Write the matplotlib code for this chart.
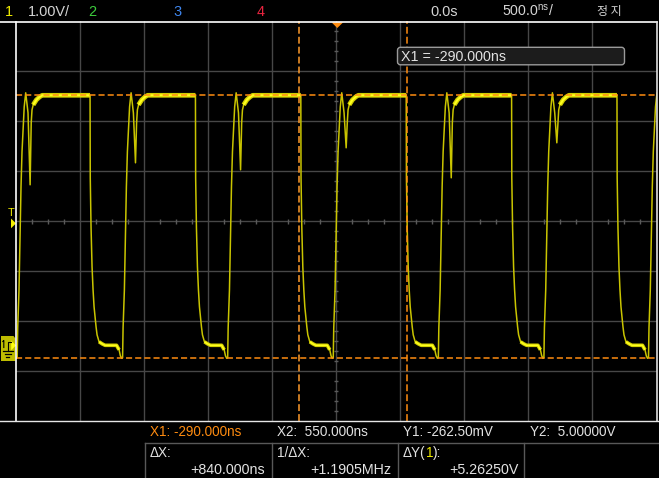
import numpy as np
import matplotlib
matplotlib.use("Agg")
import matplotlib.pyplot as plt
from matplotlib import font_manager
from matplotlib.patches import FancyBboxPatch, Polygon

# ---------------- data read from the scope screen ----------------
# channel 1 edges (ns) and depth of the ringing dip after each rising edge (V)
rise_starts_ns = [-2490.6, -1668.0, -847.7, -23.4, 796.9, 1621.1, 2437.5]
fall_starts_ns = [-1921.9, -1099.2, -276.6, 546.1, 1368.8, 2191.4]
dip_volts = [3.21, 3.65, 3.51, 3.95, 3.35, 4.05, 3.60]

# shape of the undershoot just before each rising edge
pre_rise_dt = [-46.9, -27.3, -17.2, -7.8]
pre_rise_v = [0.0, -0.09, -0.21, -0.26]
# shape of a rising edge (None = ringing dip, value from dip_volts)
rise_dt = [0.0, 3.9, 14.1, 21.9, 29.7, 37.5, 46.9, 54.7, 66.4, 84.4, 100.8,
           109.4, 115.6, 125.0, 150.0, 175.8, 195.3]
rise_v = [-0.25, 0.35, 1.11, 2.11, 3.17, 3.87, 4.35, 4.77, 5.05, 4.65, None,
          4.45, 4.71, 4.81, 4.91, 4.97, 5.0]
# shape of a falling edge
fall_dt = [0.0, 1.6, 7.8, 15.6, 23.4, 31.3, 39.1, 46.9, 54.7, 70.3, 93.8, 117.2]
fall_v = [5.0, 3.35, 2.35, 1.57, 1.11, 0.77, 0.57, 0.37, 0.21, 0.07, 0.03, 0.0]

# cursors
x1_ns, x2_ns = -290.0, 550.0
y1_v, y2_v = -0.2625, 5.0

# readout texts
header_ch = ["1", "2", "3", "4"]
readout_row1 = ["X1: -290.000ns", "X2:  550.000ns", "Y1: -262.50mV", "Y2:  5.00000V"]
readout_labels = ["\u0394X:", "1/\u0394X:"]
readout_values = ["+840.000ns", "+1.1905MHz", "+5.26250V"]

# screen scale
T_MIN, T_MAX = -2500.0, 2500.0      # 500 ns/div, 10 div
V_BOT, V_TOP = -1.52, 6.48          # 1.00 V/div, 8 div

# ---------------- fonts ----------------
names = {f.name for f in font_manager.fontManager.ttflist}
REG = "Liberation Sans" if "Liberation Sans" in names else "DejaVu Sans"
if "Liberation Sans Narrow" in names:
    NARROW, NSCALE = "Liberation Sans Narrow", 1.0
else:
    NARROW, NSCALE = REG, 0.86
CJK = "Noto Sans CJK KR"

def nar(px):
    return dict(family=[NARROW, "DejaVu Sans"], size=px * 0.72 * NSCALE)

def reg(px):
    return dict(family=[REG, "DejaVu Sans"], size=px * 0.72)

# ---------------- figure ----------------
W, H = 659, 478
fig = plt.figure(figsize=(W / 100, H / 100), dpi=100, facecolor="black")

ax = fig.add_axes([16 / W, 1 - 421.3 / H, 640.5 / W, 400 / H])
ax.set_xlim(T_MIN, T_MAX)
ax.set_ylim(V_BOT, V_TOP)
ax.set_facecolor("black")
ax.axis("off")

grid_c = "#474747"
for k in range(1, 10):
    ax.axvline(T_MIN + 500 * k, color=grid_c, lw=1.0, zorder=1)
for k in range(1, 8):
    ax.axhline(V_BOT + k, color=grid_c, lw=1.0, zorder=1)

# minor ticks on the centre cross
v_c = V_BOT + 4
tx = np.arange(T_MIN, T_MAX + 1, 125.0)
tx = tx[np.abs((tx - T_MIN) % 500) > 1]
ax.vlines(tx, v_c - 0.045, v_c + 0.045, color="#5a5a5a", lw=1.0, zorder=1)
vy = V_BOT + 0.2 * np.arange(0, 41)
vy = vy[np.abs(((vy - V_BOT) + 1e-6) % 1.0) > 0.01]
ax.hlines(vy, -16, 16, color="#5a5a5a", lw=1.0, zorder=1)

# build the trace from the read edge data
t_pts, v_pts = [], []
top_windows, bot_windows = [], []
for i, r in enumerate(rise_starts_ns):
    for dt, vv in zip(pre_rise_dt, pre_rise_v):
        t_pts.append(r + dt); v_pts.append(vv)
    for dt, vv in zip(rise_dt, rise_v):
        t_pts.append(r + dt); v_pts.append(dip_volts[i] if vv is None else vv)
    if i < len(fall_starts_ns):
        f = fall_starts_ns[i]
        top_windows.append((r + 125.0, f))
        for dt, vv in zip(fall_dt, fall_v):
            t_pts.append(f + dt); v_pts.append(vv)
        if i + 1 < len(rise_starts_ns):
            bot_windows.append((f + 70.3, rise_starts_ns[i + 1] - 27.3))
    else:
        top_windows.append((r + 125.0, T_MAX + 50))
t_pts = np.array(t_pts); v_pts = np.array(v_pts)
# level before the first edge
t_pts = np.concatenate([[T_MIN - 100], t_pts, [T_MAX + 100]])
v_pts = np.concatenate([[0.0], v_pts, [5.0]])

ax.plot(t_pts, v_pts, color="#C9C400", lw=1.1, zorder=3)
for (a, b) in top_windows:
    m = (t_pts >= a - 0.01) & (t_pts <= b + 0.01)
    ax.plot(t_pts[m], v_pts[m], color="#D2CE00", lw=3.4, zorder=3,
            solid_capstyle="butt")
    ax.plot(t_pts[m], v_pts[m], color="#FFFF1E", lw=1.5, zorder=3,
            solid_capstyle="butt")
for (a, b) in bot_windows:
    m = (t_pts >= a - 0.01) & (t_pts <= b + 0.01)
    ax.plot(t_pts[m], v_pts[m], color="#D2CE00", lw=2.6, zorder=3,
            solid_capstyle="butt")
    ax.plot(t_pts[m], v_pts[m], color="#FFFF1E", lw=1.1, zorder=3,
            solid_capstyle="butt")

# cursors
cur_c = "#FF8C10"
for yv in (y1_v, y2_v):
    ax.axhline(yv, color=cur_c, lw=1.1, dashes=(4, 2), zorder=4)
ax.axvline(x1_ns, color="#FF9A2A", lw=1.1, dashes=(4.5, 2), zorder=4)
ax.axvline(x2_ns, color=cur_c, lw=1.1, dashes=(4.5, 2), zorder=4)

# ---------------- overlay in screen pixels ----------------
ov = fig.add_axes([0, 0, 1, 1], zorder=5)
ov.set_xlim(0, W); ov.set_ylim(H, 0)
ov.patch.set_visible(False)
ov.axis("off")

# frame
ov.plot([0, 657.2], [22, 22], color="white", lw=1.2)
ov.plot([16.3, 16.3], [22, 421.3], color="white", lw=1.2)
ov.plot([657.2, 657.2], [22, 421.3], color="#E0E0E0", lw=1.2)
ov.plot([0, 659], [421.3, 421.3], color="#E6E6E6", lw=1.0)

# trigger position marker (top) and trigger level marker (left)
ov.add_patch(Polygon([[331.5, 22.3], [343.2, 22.3], [337.3, 28.0]],
                     closed=True, color="#FF8C10", lw=0))
ov.text(11.3, 216.5, "T", color="#F5F000", ha="center", va="baseline",
        **reg(11))
ov.add_patch(Polygon([[11, 218.5], [11, 228.3], [16, 223.4]], closed=True,
                     color="#F5F000", lw=0))

# channel-1 ground marker
ov.add_patch(Polygon([[1, 336], [13.5, 336], [15.5, 338.5], [15.5, 361],
                      [1, 361]], closed=True, color="#BEBC00", lw=0))
ov.add_patch(Polygon([[11.2, 340.5], [11.2, 350.3], [16, 345.4]], closed=True,
                     color="#FFFF10", lw=0))
ov.plot([2.8, 3.8, 3.8], [341.5, 340.5, 347.5], color="black", lw=0.8)
ov.plot([7.5, 7.5, 11], [351, 342, 342], color="black", lw=0.8)
ov.plot([3.3, 12.7], [351.2, 351.2], color="black", lw=0.9)
ov.plot([4.8, 10.7], [354.2, 354.2], color="black", lw=0.9)
ov.plot([6.3, 9.0], [357.3, 357.3], color="black", lw=0.9)

# header
hb = 15.8
ov.text(5, hb, header_ch[0], color="#F0EC00", **nar(16.9))
ov.text(28, hb, "1.00V/", color="#D4D4D4", **nar(16.9))
ov.text(88, hb, header_ch[1], color="#3CCB3C", **nar(16.9))
ov.text(173, hb, header_ch[2], color="#3F86EE", **nar(16.9))
ov.text(257, hb, header_ch[3], color="#E8243F", **nar(16.9))
ov.text(430, hb, "0.0s", color="#D4D4D4", **nar(16.9))
ov.text(502, hb, r"500.0$\mathregular{^{ns}}$/", color="#D4D4D4",
        **nar(16.4))
ov.text(597, 15.3, "\uC815 \uC9C0", color="#D4D4D4",
        family=[CJK, "DejaVu Sans"], size=8.6)

# X1 cursor box
ov.add_patch(FancyBboxPatch((398.5, 48.3), 225, 15.5,
                            boxstyle="round,pad=1.0,rounding_size=3",
                            facecolor="#1C1C1C", edgecolor="#9A9A9A", lw=1.0))
ov.text(401, 61, "X1 = -290.000ns", color="#E2E2E2", **nar(16.6))

# bottom readouts
sep_c = "#585858"
ov.plot([145, 659], [443.3, 443.3], color=sep_c, lw=1.0)
for xs in (145, 271.7, 398.3, 524.3):
    ov.plot([xs, xs], [443.3, 478], color=sep_c, lw=1.0)

r1 = 435.7
cols = [150, 277, 403, 530]
ov.text(cols[0], r1, readout_row1[0], color="#FF8C10", **reg(13.5))
for c, s in zip(cols[1:], readout_row1[1:]):
    ov.text(c, r1, s, color="#E2E2E2", **reg(13.5))

r2a = 456.7
ov.text(cols[0], r2a, readout_labels[0], color="#E2E2E2", **reg(13.5))
ov.text(cols[1], r2a, readout_labels[1], color="#E2E2E2", **reg(13.5))
renderer = fig.canvas.get_renderer()
t1 = ov.text(cols[2], r2a, "\u0394Y(", color="#E2E2E2", **reg(13.5))
bb = t1.get_window_extent(renderer)
x_next = ov.transData.inverted().transform((bb.x1, bb.y0))[0]
t2 = ov.text(x_next, r2a, "1", color="#F0EC00", **reg(13.5))
bb = t2.get_window_extent(renderer)
x_next = ov.transData.inverted().transform((bb.x1, bb.y0))[0]
ov.text(x_next, r2a, "):", color="#E2E2E2", **reg(13.5))

r2b = 474
for xr, s in zip((265, 391.7, 519), readout_values):
    ov.text(xr, r2b, s, color="#E2E2E2", ha="right", **nar(16.6))

fig.savefig("out.png", dpi=100, facecolor="black")
